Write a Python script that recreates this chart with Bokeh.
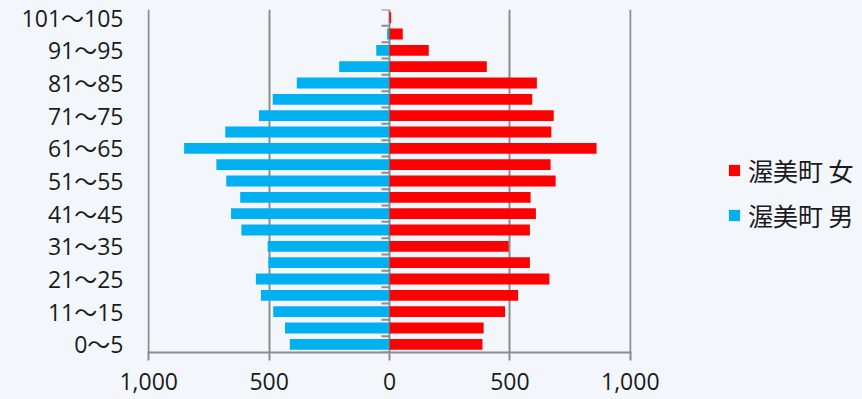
from bokeh.plotting import figure
from bokeh.layouts import row
from bokeh.models import Range1d, FixedTicker, Legend, LegendItem, CustomJSTickFormatter
from bokeh.embed import file_html
from bokeh.resources import INLINE

# Age bands (5-year groups), bottom to top
age_groups = ["0～5", "6～10", "11～15", "16～20", "21～25", "26～30", "31～35",
              "36～40", "41～45", "46～50", "51～55", "56～60", "61～65", "66～70",
              "71～75", "76～80", "81～85", "86～90", "91～95", "96～100", "101～105"]

# Population by sex for each band
male = [414, 434, 483, 534, 555, 503, 506, 615, 658, 620, 678,
        719, 853, 682, 542, 485, 385, 209, 55, 10, 1]
female = [386, 391, 480, 534, 664, 583, 495, 583, 608, 586, 690,
          669, 860, 672, 682, 593, 612, 404, 163, 55, 7]

series_names = ["渥美町 女", "渥美町 男"]
series_colors = ["#ff0000", "#00b0f0"]

x_ticks = [-1000, -500, 0, 500, 1000]

NUM_FONT = "'Open Sans', 'Noto Sans CJK JP'"
CJK_FONT = "Noto Sans CJK JP"
TEXT = "#1a1a1a"
GRID = "#8c8c8c"
BG = "#f3f7fc"

W, H = 862, 399
CHART_W = 671          # chart figure, including room for the last x label
RIGHT_PAD = 40
LEGEND_W = W - CHART_W

n = len(age_groups)
idx = list(range(n))

# a little slack either side so the outer grid lines are drawn in full
pad = 5
p = figure(width=CHART_W, height=H, output_backend="svg", toolbar_location=None,
           x_range=Range1d(-1000 - pad, 1000 + pad), y_range=Range1d(-0.5, n - 0.5),
           min_border_left=147, min_border_right=RIGHT_PAD, min_border_top=9,
           min_border_bottom=47, styles={"background-color": BG})
p.background_fill_color = BG
p.border_fill_color = BG
p.outline_line_color = None

male_left = [-v for v in male]
zeros = [0] * n
p.hbar(y=idx, left=male_left, right=zeros, height=0.66,
       fill_color=series_colors[1], line_color=None)
p.hbar(y=idx, left=zeros, right=female, height=0.66,
       fill_color=series_colors[0], line_color=None)

# category separator ticks on the zero axis
frame_w = CHART_W - 147 - RIGHT_PAD
tick_len = 8 * (2000 + 2 * pad) / frame_w
bounds = [i - 0.5 for i in range(n + 1)]
p.segment(x0=[-tick_len] * len(bounds), x1=[0] * len(bounds), y0=bounds, y1=bounds,
          line_color=GRID, line_width=2)

# x axis
p.xaxis.ticker = FixedTicker(ticks=x_ticks)
p.xaxis.formatter = CustomJSTickFormatter(code="return Math.abs(tick).toLocaleString('en-US');")
p.xaxis.axis_line_color = GRID
p.xaxis.axis_line_width = 2
p.xaxis.major_tick_line_color = GRID
p.xaxis.major_tick_line_width = 2
p.xaxis.major_tick_out = 8
p.xaxis.major_tick_in = 0
p.xaxis.minor_tick_line_color = None
p.xaxis.major_label_text_font = NUM_FONT
p.xaxis.major_label_text_font_size = "23px"
p.xaxis.major_label_text_color = TEXT
p.xaxis.major_label_standoff = 12

# y axis: label every other band
p.yaxis.ticker = FixedTicker(ticks=idx[::2])
p.yaxis.major_label_overrides = {i: age_groups[i] for i in idx[::2]}
p.yaxis.axis_line_color = None
p.yaxis.major_tick_line_color = None
p.yaxis.minor_tick_line_color = None
p.yaxis.major_label_text_font = NUM_FONT
p.yaxis.major_label_text_font_size = "23px"
p.yaxis.major_label_text_color = TEXT
p.yaxis.major_label_standoff = 18

p.xgrid.ticker = FixedTicker(ticks=x_ticks)
p.xgrid.grid_line_color = GRID
p.xgrid.grid_line_width = 2
p.ygrid.grid_line_color = None

# legend panel to the right of the chart; its swatch renderers sit off-range
lg = figure(width=LEGEND_W, height=H, output_backend="svg", toolbar_location=None,
            x_range=Range1d(0, 1), y_range=Range1d(0, 1),
            min_border=0, styles={"background-color": BG})
lg.axis.visible = False
lg.grid.visible = False
lg.outline_line_color = None
lg.background_fill_color = BG
lg.border_fill_color = BG
items = []
for name, color in zip(series_names, series_colors):
    r = lg.quad(left=[5], right=[6], bottom=[5], top=[6],
                fill_color=color, line_color=None)
    items.append(LegendItem(label=name, renderers=[r]))
legend = Legend(items=items, location=(96 - RIGHT_PAD, 119), orientation="vertical")
legend.background_fill_alpha = 0
legend.border_line_color = None
legend.padding = 0
legend.margin = 0
legend.spacing = 9
legend.glyph_width = 14
legend.glyph_height = 14
legend.label_standoff = 7
legend.label_text_font = CJK_FONT
legend.label_text_font_size = "25px"
legend.label_text_color = TEXT
lg.add_layout(legend, "center")

layout = row(p, lg, spacing=0, styles={"background-color": BG})
open("out.html", "w").write(file_html(layout, INLINE))
